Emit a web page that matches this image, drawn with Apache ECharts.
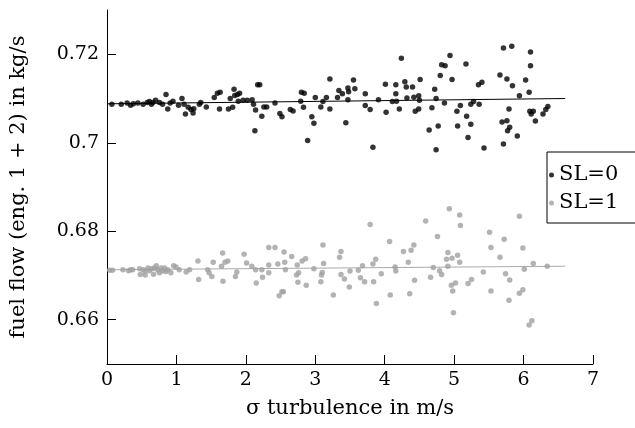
<!DOCTYPE html>
<html>
<head>
<meta charset="utf-8">
<style>
    html, body { margin: 0; padding: 0; background: #fff; }
    #main { width: 635px; height: 428px; }
</style>
<script src="https://cdn.jsdelivr.net/npm/echarts@6/dist/echarts.min.js"></script>
</head>
<body>
<div id="main"></div>
<script>
    // [sigma turbulence (m/s), fuel flow (kg/s)]
    var sl0Points = [
        [0.07,0.7087],[0.205,0.7087],[0.29,0.7090],[0.34,0.7085],[0.38,0.7088],[0.445,0.7090],[0.52,0.7087],[0.58,0.7091],
        [0.61,0.7093],[0.64,0.7087],[0.66,0.7091],[0.70,0.7096],[0.755,0.7091],[0.80,0.7087],[0.85,0.7109],[0.875,0.7076],
        [0.91,0.7090],[0.95,0.7094],[1.03,0.7085],[1.08,0.7100],[1.11,0.7087],[1.13,0.7065],[1.17,0.7080],[1.21,0.7075],
        [1.24,0.7067],[1.25,0.7077],[1.33,0.7087],[1.35,0.7091],[1.43,0.7081],[1.545,0.7102],[1.59,0.7112],[1.63,0.7114],
        [1.62,0.7076],[1.75,0.7076],[1.775,0.7100],[1.81,0.7080],[1.83,0.7121],[1.84,0.7107],[1.88,0.7109],[1.91,0.7112],
        [1.89,0.7094],[1.96,0.7096],[2.02,0.7096],[2.09,0.7097],[2.11,0.7087],[2.14,0.7074],[2.13,0.7027],[2.17,0.7131],
        [2.20,0.7131],[2.23,0.7060],[2.26,0.7081],[2.30,0.7081],[2.42,0.7090],[2.49,0.7066],[2.52,0.7059],[2.64,0.7075],
        [2.68,0.7072],[2.79,0.7094],[2.80,0.7114],[2.84,0.7112],[2.83,0.7080],[2.89,0.7005],[2.95,0.7059],[2.98,0.7044],
        [3.00,0.7102],[3.08,0.7081],[3.11,0.7093],[3.16,0.7102],[3.21,0.7144],[3.21,0.7076],[3.32,0.7102],[3.34,0.7118],
        [3.39,0.7111],[3.44,0.7045],[3.47,0.7124],[3.48,0.7115],[3.47,0.7097],[3.55,0.7142],[3.57,0.7122],[3.72,0.7111],
        [3.72,0.7084],[3.79,0.7075],[3.83,0.6990],[3.91,0.7097],[4.01,0.7132],[4.02,0.7069],[4.11,0.7093],[4.16,0.7131],
        [4.16,0.7111],[4.17,0.7094],[4.21,0.7076],[4.24,0.7191],[4.29,0.7138],[4.31,0.7126],[4.32,0.7101],[4.40,0.7126],
        [4.42,0.7103],[4.44,0.7071],[4.49,0.7076],[4.49,0.7106],[4.50,0.7096],[4.51,0.7143],[4.64,0.7029],[4.68,0.7079],
        [4.72,0.7121],[4.74,0.7100],[4.74,0.6984],[4.77,0.7038],[4.80,0.7152],[4.82,0.7176],[4.87,0.7174],[4.86,0.7090],
        [4.94,0.7197],[4.97,0.7143],[5.04,0.7071],[5.05,0.7038],[5.09,0.7084],[5.17,0.7178],[5.18,0.7060],[5.20,0.7012],
        [5.24,0.7042],[5.24,0.7087],[5.28,0.7093],[5.35,0.7131],[5.40,0.7137],[5.36,0.7087],[5.43,0.6988],[5.66,0.7153],
        [5.69,0.7047],[5.71,0.7214],[5.71,0.6997],[5.76,0.7144],[5.76,0.7050],[5.77,0.7027],[5.79,0.7076],[5.80,0.7035],
        [5.83,0.7218],[5.84,0.7129],[5.91,0.7015],[5.94,0.7106],[6.03,0.7142],[6.08,0.7114],[6.10,0.7205],[6.10,0.7174],
        [6.09,0.7071],[6.11,0.7065],[6.14,0.7071],[6.17,0.7049],[6.28,0.7065],[6.32,0.7075],[6.35,0.7082]
    ];
    var sl1Points = [
        [0.04,0.6712],[0.08,0.6712],[0.23,0.6713],[0.31,0.6711],[0.34,0.6713],[0.37,0.6713],[0.47,0.6715],[0.48,0.6702],
        [0.52,0.6713],[0.55,0.6710],[0.55,0.6701],[0.59,0.6717],[0.61,0.6711],[0.64,0.6715],[0.67,0.6703],[0.68,0.6717],
        [0.71,0.6722],[0.73,0.6713],[0.755,0.6706],[0.78,0.6717],[0.80,0.6710],[0.83,0.6717],[0.85,0.6709],[0.875,0.6713],
        [0.92,0.6706],[0.96,0.6722],[0.995,0.6719],[1.04,0.6713],[1.14,0.6708],[1.19,0.6713],[1.31,0.6733],[1.32,0.6691],
        [1.45,0.6713],[1.47,0.6706],[1.51,0.6698],[1.53,0.6730],[1.665,0.6751],[1.67,0.6687],[1.65,0.6721],[1.70,0.6730],
        [1.74,0.6733],[1.85,0.6698],[1.87,0.6708],[1.975,0.6748],[2.01,0.6728],[2.085,0.6721],[2.14,0.6713],[2.15,0.6683],
        [2.23,0.6713],[2.24,0.6696],[2.33,0.6763],[2.33,0.6724],[2.33,0.6706],[2.42,0.6763],[2.46,0.6726],[2.48,0.6654],
        [2.52,0.6663],[2.54,0.6663],[2.55,0.6753],[2.56,0.6730],[2.57,0.6713],[2.66,0.6743],[2.73,0.6701],[2.74,0.6724],
        [2.75,0.6685],[2.76,0.6706],[2.81,0.6733],[2.86,0.6738],[2.87,0.6678],[2.98,0.6715],[3.08,0.6686],[3.09,0.6701],
        [3.10,0.6707],[3.11,0.6769],[3.12,0.6727],[3.26,0.6656],[3.35,0.6741],[3.37,0.6754],[3.37,0.6702],[3.42,0.6692],
        [3.49,0.6674],[3.50,0.6710],[3.62,0.6712],[3.65,0.6695],[3.68,0.6722],[3.71,0.6686],[3.79,0.6815],[3.83,0.6726],
        [3.84,0.6686],[3.87,0.6737],[3.88,0.6637],[3.95,0.6704],[4.07,0.6777],[4.08,0.6656],[4.15,0.6719],[4.16,0.6710],
        [4.27,0.6754],[4.34,0.6730],[4.36,0.6659],[4.38,0.6757],[4.42,0.6769],[4.43,0.6689],[4.59,0.6823],[4.66,0.6696],
        [4.70,0.6718],[4.76,0.6788],[4.79,0.6711],[4.82,0.6702],[4.89,0.6737],[4.91,0.6752],[4.91,0.6721],[4.93,0.6851],
        [4.96,0.6678],[4.97,0.6739],[4.98,0.6665],[4.99,0.6616],[5.02,0.6683],[5.05,0.6746],[5.08,0.6730],[5.08,0.6837],
        [5.09,0.6813],[5.20,0.6682],[5.25,0.6691],[5.42,0.6708],[5.51,0.6798],[5.53,0.6763],[5.53,0.6665],[5.66,0.6741],
        [5.72,0.6782],[5.74,0.6704],[5.80,0.6690],[5.79,0.6644],[5.94,0.6834],[5.94,0.6660],[5.99,0.6668],[5.99,0.6762],
        [6.01,0.6714],[6.08,0.6588],[6.12,0.6598],[6.14,0.6727],[6.34,0.6721]
    ];
    // linear fits, drawn from sigma 0 to 6.6
    var fitSigma = [0, 6.6];
    var sl0Fit = [0.7088, 0.7100];
    var sl1Fit = [0.6713, 0.6721];
    var yTicks = [0.66, 0.68, 0.70, 0.72];

    var font = 'DejaVu Serif';
    var myChart = echarts.init(document.getElementById('main'));
    var option = {
        animation: false,
        grid: { left: 106, right: 42, top: 10, bottom: 64 },
        legend: {
            orient: 'vertical',
            left: 547,
            top: 152,
            data: ['SL=0', 'SL=1'],
            icon: 'circle',
            itemWidth: 5,
            itemHeight: 5,
            itemGap: 4,
            padding: [11, 60, 8, 2],
            borderColor: '#000',
            borderWidth: 1,
            backgroundColor: '#fff',
            textStyle: { fontFamily: font, fontSize: 21, lineHeight: 24, color: '#000' }
        },
        xAxis: {
            type: 'value',
            min: 0,
            max: 7,
            interval: 1,
            name: 'σ turbulence in m/s',
            nameLocation: 'middle',
            nameGap: 34,
            nameTextStyle: { fontFamily: font, fontSize: 21, color: '#000' },
            axisLine: { lineStyle: { color: '#000', width: 1 } },
            axisTick: { inside: true, length: 9, lineStyle: { color: '#000' } },
            axisLabel: { fontFamily: font, fontSize: 19, color: '#000', margin: 7 },
            splitLine: { show: false }
        },
        yAxis: {
            type: 'value',
            min: 0.65,
            max: 0.73,
            name: 'fuel flow (eng. 1 + 2) in kg/s',
            nameLocation: 'middle',
            nameGap: 78,
            nameTextStyle: { fontFamily: font, fontSize: 21, color: '#000' },
            axisLine: { show: true, lineStyle: { color: '#000', width: 1 } },
            axisTick: { inside: true, length: 9, customValues: yTicks, lineStyle: { color: '#000' } },
            axisLabel: {
                fontFamily: font, fontSize: 19, color: '#000', margin: 8,
                customValues: yTicks,
                formatter: function (v) { return String(parseFloat(v.toFixed(2))); }
            },
            splitLine: { show: false }
        },
        series: [
            {
                name: 'SL=0-fit',
                type: 'line',
                data: fitSigma.map(function (s, i) { return [s, sl0Fit[i]]; }),
                showSymbol: false,
                lineStyle: { color: '#000', width: 1 },
                z: 1
            },
            {
                name: 'SL=1-fit',
                type: 'line',
                data: fitSigma.map(function (s, i) { return [s, sl1Fit[i]]; }),
                showSymbol: false,
                lineStyle: { color: '#aaaaaa', width: 1 },
                z: 1
            },
            {
                name: 'SL=0',
                type: 'scatter',
                data: sl0Points,
                symbolSize: 5.5,
                itemStyle: { color: '#000' },
                z: 2
            },
            {
                name: 'SL=1',
                type: 'scatter',
                data: sl1Points,
                symbolSize: 5.5,
                itemStyle: { color: '#a0a0a0' },
                z: 2
            }
        ]
    };
    myChart.setOption(option);
</script>
</body>
</html>
